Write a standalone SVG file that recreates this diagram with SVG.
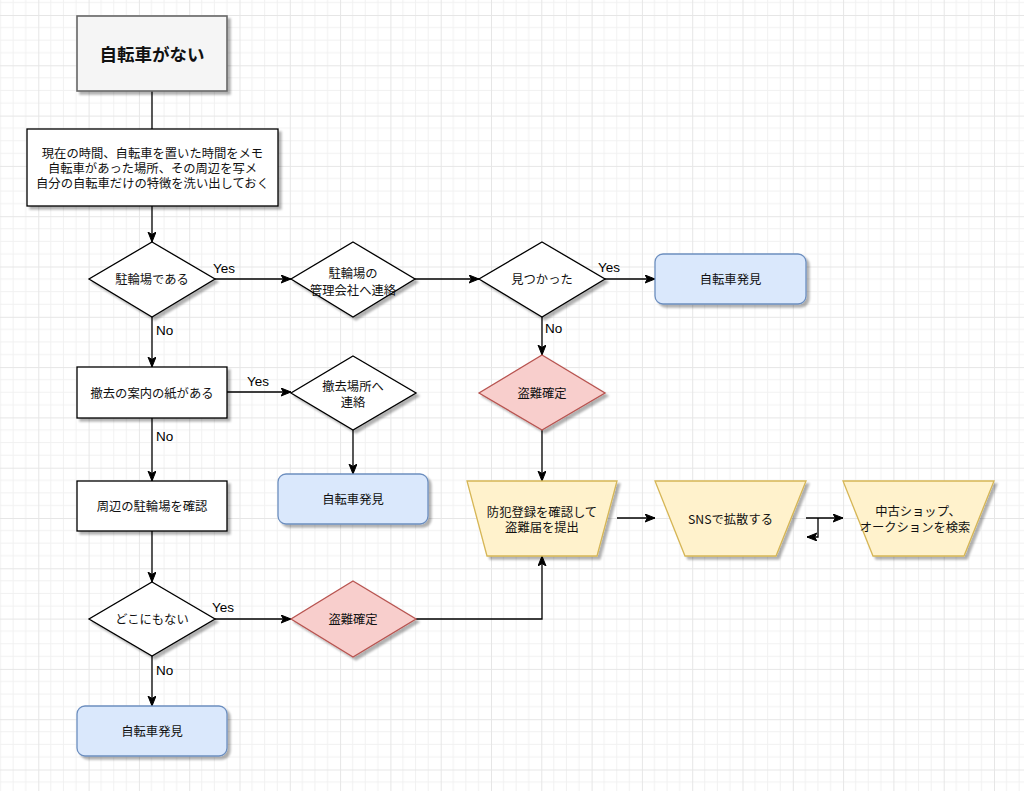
<svg xmlns="http://www.w3.org/2000/svg" width="1024" height="791" viewBox="0 0 1024 791">
<defs>
<pattern id="grid" patternUnits="userSpaceOnUse" x="38.3" y="15" width="50.3" height="50.3">
<path d="M12.575,0V50.3M25.15,0V50.3M37.725,0V50.3M0,12.575H50.3M0,25.15H50.3M0,37.725H50.3" stroke="#f1f1f1" stroke-width="1" fill="none"/>
<path d="M0.5,0V50.3M0,0.5H50.3" stroke="#e6e6e6" stroke-width="1" fill="none"/>
</pattern>
<filter id="sh" x="-10%" y="-10%" width="130%" height="130%">
<feDropShadow dx="3" dy="3" stdDeviation="0.8" flood-color="#000" flood-opacity="0.3"/>
</filter>
<marker id="arr" markerUnits="userSpaceOnUse" markerWidth="12" markerHeight="10" refX="10" refY="4" orient="auto" viewBox="0 0 12 10">
<path d="M0,0 L10,4 L0,8 L2.5,4 Z" fill="#000" stroke="#000" stroke-width="1"/>
</marker>
<style>
.shape{filter:url(#sh);stroke-width:1.3}
.plain{fill:#fff;stroke:#000}
.start{fill:#f5f5f5;stroke:#666;stroke-width:1.6}
.blue{fill:#dae8fc;stroke:#6c8ebf}
.red{fill:#f8cecc;stroke:#b85450}
.yel{fill:#fff2cc;stroke:#d6b656}
.t{font-family:"Noto Sans CJK JP","Noto Sans",sans-serif;font-size:12.3px;fill:#111;text-anchor:middle;dominant-baseline:central}
.tb{font-family:"Noto Sans CJK JP","Noto Sans",sans-serif;font-size:17.5px;font-weight:bold;fill:#111;text-anchor:middle;dominant-baseline:central}
.lbl{font-family:"Liberation Sans",Arial,sans-serif;font-size:13.5px;fill:#000}
.c{fill:none;stroke:#000;stroke-width:1.3}
.ca{fill:none;stroke:#000;stroke-width:1.3;marker-end:url(#arr)}
</style>
</defs>
<rect width="1024" height="791" fill="#fff"/>
<rect width="1024" height="791" fill="url(#grid)"/>

<g id="connectors">
<path class="c" d="M152,91 L152,129"/>
<path class="ca" d="M152,206 L152,242"/>
<path class="ca" d="M215,279 L291,279"/>
<path class="ca" d="M415,279 L479,279"/>
<path class="ca" d="M604,279 L655,279"/>
<path class="ca" d="M542,317 L542,355"/>
<path class="ca" d="M152,317 L152,367"/>
<path class="ca" d="M227,392 L291,392"/>
<path class="ca" d="M353,430 L353,474"/>
<path class="ca" d="M152,418 L152,481"/>
<path class="ca" d="M152,531 L152,582"/>
<path class="ca" d="M215,619 L291,619"/>
<path class="ca" d="M152,656 L152,706"/>
<path class="ca" d="M416,619 L542,619 L542,556"/>
<path class="ca" d="M542,430 L542,481"/>
<path class="ca" d="M617,518 L655,518"/>
<path class="ca" d="M806,518 L843,518"/>
<path class="ca" d="M818,518 L818,537 L807,537"/>
<text class="lbl" x="213" y="273">Yes</text>
<text class="lbl" x="598" y="272">Yes</text>
<text class="lbl" x="247" y="386">Yes</text>
<text class="lbl" x="212" y="612">Yes</text>
<text class="lbl" x="156" y="335">No</text>
<text class="lbl" x="545" y="333">No</text>
<text class="lbl" x="156" y="441">No</text>
<text class="lbl" x="156" y="675">No</text>
</g>

<g id="start">
<rect class="shape start" x="77" y="16" width="150" height="75"/>
<text class="tb" x="152" y="53.5">自転車がない</text>
</g>

<g id="memo">
<rect class="shape plain" x="27" y="129" width="251" height="77"/>
<text class="t" x="152.5" y="152.5">現在の時間、自転車を置いた時間をメモ</text>
<text class="t" x="152.5" y="167.5">自転車があった場所、その周辺を写メ</text>
<text class="t" x="152.5" y="182.5">自分の自転車だけの特徴を洗い出しておく</text>
</g>

<g id="d-parking">
<path class="shape plain" d="M152,242 L215,279 L152,317 L89,279 Z"/>
<text class="t" x="152" y="279">駐輪場である</text>
</g>

<g id="d-contact-mgmt">
<path class="shape plain" d="M353,242 L415,279 L353,317 L291,279 Z"/>
<text class="t" x="353" y="273">駐輪場の</text>
<text class="t" x="353" y="289.5">管理会社へ連絡</text>
</g>

<g id="d-found">
<path class="shape plain" d="M542,242 L605,279 L542,317 L479,279 Z"/>
<text class="t" x="542" y="279">見つかった</text>
</g>

<g id="found1">
<rect class="shape blue" x="655" y="254" width="151" height="50" rx="8"/>
<text class="t" x="730.5" y="279">自転車発見</text>
</g>

<g id="removal-note">
<rect class="shape plain" x="77" y="367" width="150" height="51"/>
<text class="t" x="152" y="392.5">撤去の案内の紙がある</text>
</g>

<g id="d-contact-removal">
<path class="shape plain" d="M353,356 L416,393 L353,430 L291,393 Z"/>
<text class="t" x="353" y="386">撤去場所へ</text>
<text class="t" x="353" y="401.5">連絡</text>
</g>

<g id="found2">
<rect class="shape blue" x="278" y="474" width="150" height="50" rx="8"/>
<text class="t" x="353" y="499">自転車発見</text>
</g>

<g id="check-nearby">
<rect class="shape plain" x="77" y="481" width="150" height="50"/>
<text class="t" x="152" y="506">周辺の駐輪場を確認</text>
</g>

<g id="d-nowhere">
<path class="shape plain" d="M152,582 L215,619 L152,656 L89,619 Z"/>
<text class="t" x="152" y="619">どこにもない</text>
</g>

<g id="found3">
<rect class="shape blue" x="77" y="706" width="150" height="50" rx="8"/>
<text class="t" x="152" y="731">自転車発見</text>
</g>

<g id="d-theft1">
<path class="shape red" d="M542,355 L605,393 L542,430 L479,393 Z"/>
<text class="t" x="542" y="392.5">盗難確定</text>
</g>

<g id="d-theft2">
<path class="shape red" d="M353,581 L416,619 L353,657 L291,619 Z"/>
<text class="t" x="353" y="619">盗難確定</text>
</g>

<g id="report">
<path class="shape yel" d="M467,481 L617,481 L597,556 L487,556 Z"/>
<text class="t" x="542" y="511.5">防犯登録を確認して</text>
<text class="t" x="542" y="527">盗難届を提出</text>
</g>

<g id="sns">
<path class="shape yel" d="M655,481 L806,481 L776,556 L685,556 Z"/>
<text class="t" x="730.5" y="518.5">SNSで拡散する</text>
</g>

<g id="search">
<path class="shape yel" d="M843,481 L994,481 L964,556 L873,556 Z"/>
<text class="t" x="918" y="511">中古ショップ、</text>
<text class="t" x="915" y="526.5">オークションを検索</text>
</g>
</svg>
